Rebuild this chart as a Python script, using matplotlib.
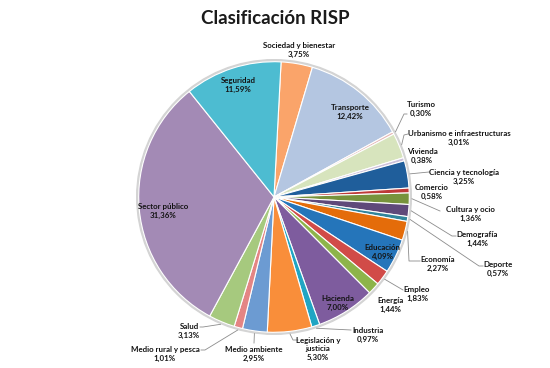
import numpy as np
import matplotlib
matplotlib.use("Agg")
import matplotlib.pyplot as plt
from matplotlib.lines import Line2D
from matplotlib.patches import Circle

plt.rcParams['font.family'] = ['Lato', 'DejaVu Sans']

# data
categorias = ['Sociedad y bienestar', 'Transporte', 'Turismo',
              'Urbanismo e infraestructuras', 'Vivienda', 'Ciencia y tecnología',
              'Comercio', 'Cultura y ocio', 'Demografía', 'Deporte', 'Economía',
              'Educación', 'Empleo', 'Energía', 'Hacienda', 'Industria',
              'Legislación y\njusticia', 'Medio ambiente', 'Medio rural y pesca',
              'Salud', 'Sector público', 'Seguridad']
valores = [3.75, 12.42, 0.30, 3.01, 0.38, 3.25, 0.58, 1.36, 1.44, 0.57, 2.27,
           4.09, 1.83, 1.44, 7.00, 0.97, 5.30, 2.95, 1.01, 3.13, 31.36, 11.59]

colores = ['#FAA46A', '#B4C6E1', '#E6B9B8', '#D7E4BD', '#CCC1DA', '#1F5E9B',
           '#BE3A38', '#77933C', '#5F497A', '#31859C', '#E46C0A', '#2575BA',
           '#D14B48', '#8DB44A', '#7E5C9E', '#20A5C3', '#F98E3A', '#6C9BD2',
           '#E48584', '#A6C97E', '#A38AB5', '#4DBCD1']

# layout (pixels from top-left): label centre and leader-line waypoints
W, H = 550, 368
cx, cy, R = 274, 197, 138
start = 87

label_pos = {
    'Sociedad y bienestar': (299, 50, []),
    'Transporte': (350, 112, None),
    'Turismo': (421, 109, [(404, 114), (407, 114)]),
    'Urbanismo e infraestructuras': (459, 138, [(404, 135), (408, 134)]),
    'Vivienda': (422, 156, []),
    'Ciencia y tecnología': (464, 177, [(429, 172)]),
    'Comercio': (432, 192, []),
    'Cultura y ocio': (470, 214, [(440, 211)]),
    'Demografía': (477, 239, [(452, 236), (456, 236)]),
    'Deporte': (498, 269, [(479, 266), (483, 266)]),
    'Economía': (438, 264, [(409, 261), (420, 261)]),
    'Educación': (382, 252, None),
    'Empleo': (417, 294, [(403, 290)]),
    'Energía': (390, 305, []),
    'Hacienda': (338, 303, None),
    'Industria': (368, 335, [(351, 330)]),
    'Legislación y\njusticia': (318, 349, [(293, 340), (298, 340)]),
    'Medio ambiente': (254, 354, [(254, 343)]),
    'Medio rural y pesca': (165, 354, [(205, 350), (201, 350)]),
    'Salud': (189, 331, [(203, 327), (200, 327)]),
    'Sector público': (163, 211, None),
    'Seguridad': (238, 85, None),
}


def fig_xy(x, y):
    return x / W, 1 - y / H


fig = plt.figure(figsize=(W / 100, H / 100), dpi=100)
ax = fig.add_axes([(cx - R) / W, (H - cy - R) / H, 2 * R / W, 2 * R / H])
ax.add_patch(Circle((0, 0), 1.015, color='#d4d4d4', zorder=0))
wedges, _ = ax.pie(valores, colors=colores, startangle=start, counterclock=False,
                   radius=1, wedgeprops=dict(edgecolor='white', linewidth=0.8))
ax.set_xlim(-1.02, 1.02)
ax.set_ylim(-1.02, 1.02)
ax.axis('off')

fig.text(*fig_xy(275, 18), 'Clasificación RISP', ha='center', va='center',
         fontsize=13.5, fontweight='bold', color='#1a1a1a')

total = sum(valores)
acum = 0
for nombre, v in zip(categorias, valores):
    mid = np.radians(start - 360 * (acum + v / 2) / total)
    acum += v
    tx, ty, path = label_pos[nombre]
    pct = ('%.2f%%' % v).replace('.', ',')
    fig.text(*fig_xy(tx, ty), nombre + '\n' + pct, ha='center', va='center',
             multialignment='center', fontsize=5.7, fontweight='bold',
             color='#141414', linespacing=1.25)
    if path:
        pts = [(cx + R * np.cos(mid), cy - R * np.sin(mid))] + path
        xs = [p[0] / W for p in pts]
        ys = [1 - p[1] / H for p in pts]
        fig.add_artist(Line2D(xs, ys, transform=fig.transFigure,
                              color='#8c8c8c', lw=0.6))

fig.savefig('out.png', dpi=100)
